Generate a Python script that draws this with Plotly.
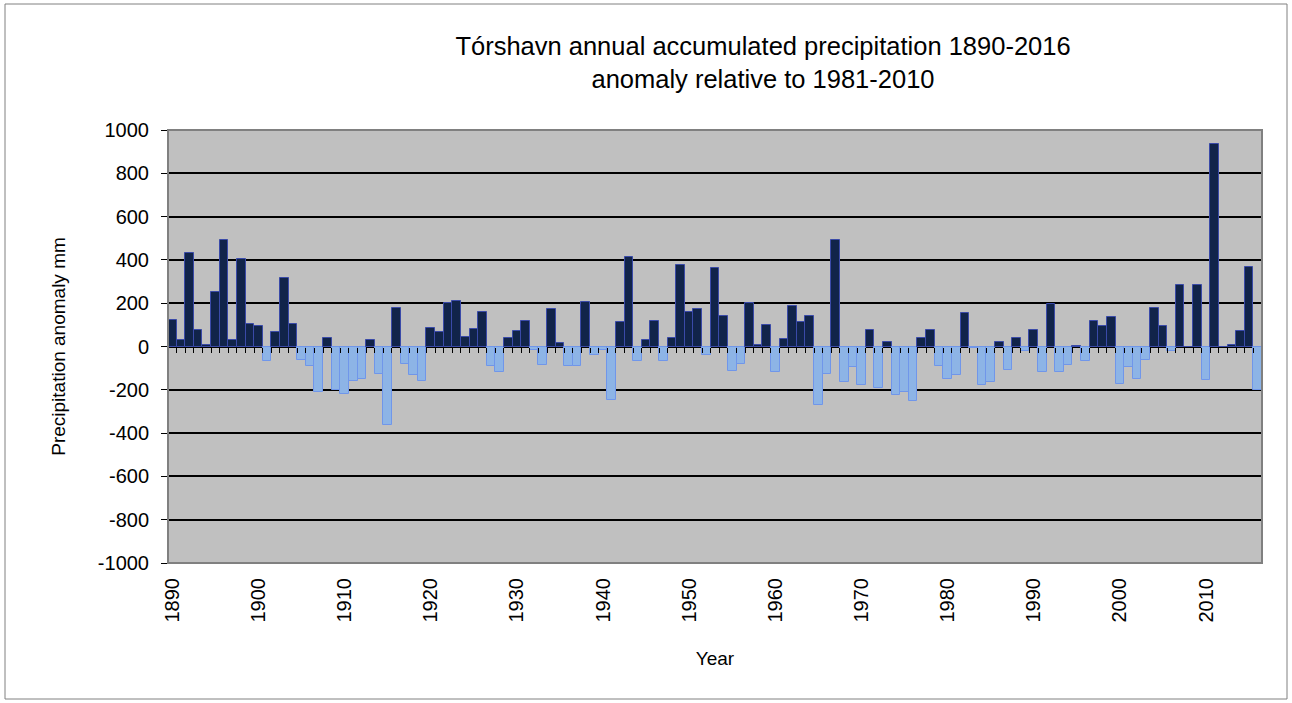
import plotly.graph_objects as go

years = list(range(1890, 2017))
anomaly = [
    123, 28, 431, 74, 6, 252, 492, 31, 403, 105,
    95, -69, 68, 317, 105, -62, -88, -208, 38, -203,
    -218, -161, -150, 31, -126, -361, 177, -81, -131, -161,
    86, 65, 203, 211, 45, 83, 160, -92, -118, 38,
    72, 119, -15, -85, 175, 18, -88, -88, 205, -38,
    -18, -246, 115, 414, -66, 31, 119, -66, 38, 377,
    160, 174, -38, 363, 140, -111, -81, 203, 5, 98,
    -118, 35, 186, 111, 140, -271, -126, 491, -164, -95,
    -178, 75, -191, 22, -224, -212, -254, 38, 75, -92,
    -148, -131, 155, -5, -178, -166, 22, -109, 38, -22,
    75, -120, 197, -118, -85, 3, -68, 119, 95, 137,
    -172, -95, -152, -63, 177, 95, -22, 285, 0, 285,
    -155, 935, 0, 8, 72, 368, -203,
]
decade_ticks = list(range(1890, 2017, 10))
y_ticks = list(range(-1000, 1001, 200))

FONT = "Arial, Liberation Sans, sans-serif"
POS_FILL, POS_LINE = "#11244a", "#3a4aa8"
NEG_FILL, NEG_LINE = "#8db4e6", "#7096ea"

W, H = 1292, 703
ML, MR, MT, MB = 168, 30, 130, 140

fig = go.Figure(go.Bar(
    x=years,
    y=anomaly,
    width=1,
    marker_color=[POS_FILL if v >= 0 else NEG_FILL for v in anomaly],
    marker_line_color=[POS_LINE if v >= 0 else NEG_LINE for v in anomaly],
    marker_line_width=1,
    showlegend=False,
    hovertemplate="%{x}: %{y} mm<extra></extra>",
))

# invisible trace to carry the small tick marks along the zero line
fig.add_trace(go.Scatter(x=[years[0]], y=[0], xaxis="x2", mode="markers",
                         marker_opacity=0, showlegend=False, hoverinfo="skip"))

pw, ph = W - ML - MR, H - MT - MB

fig.update_layout(
    width=W,
    height=H,
    font=dict(family=FONT, size=20, color="#000000"),
    paper_bgcolor="#ffffff",
    plot_bgcolor="#c0c0c0",
    margin=dict(l=ML, r=MR, t=MT, b=MB),
    bargap=0,
    title=dict(
        text="Tórshavn annual accumulated precipitation 1890-2016<br>anomaly relative to 1981-2010",
        x=763 / W,
        xanchor="center",
        y=1 - 55 / H,
        yanchor="middle",
        font=dict(size=25.5),
    ),
    xaxis=dict(
        range=[1889.5, 2016.5],
        tickmode="array",
        tickvals=decade_ticks,
        ticktext=[str(y) for y in decade_ticks],
        tickangle=-90,
        ticks="",
        ticklabelstandoff=10,
        showgrid=False,
        zeroline=False,
        showline=False,
        title=dict(text="Year", font=dict(size=19), standoff=30),
    ),
    xaxis2=dict(
        overlaying="x",
        anchor="free",
        position=0.5,
        side="bottom",
        range=[1889.5, 2016.5],
        tickmode="linear",
        tick0=1889.5,
        dtick=1,
        ticks="outside",
        ticklen=5,
        tickcolor="#000000",
        showticklabels=False,
        showgrid=False,
        zeroline=False,
        showline=False,
    ),
    yaxis=dict(
        range=[-1000, 1000],
        tickmode="array",
        tickvals=y_ticks,
        ticktext=[str(v) for v in y_ticks],
        ticks="outside",
        ticklen=6,
        tickcolor="#000000",
        ticklabelstandoff=8,
        showgrid=True,
        gridcolor="#000000",
        gridwidth=2,
        zeroline=False,
        showline=True,
        linecolor="#000000",
        linewidth=1,
        title=dict(text="Precipitation anomaly mm", font=dict(size=19), standoff=27),
    ),
)

# plot-area frame (gray) and outer chart border
fig.add_shape(type="rect", xref="paper", yref="paper", x0=0, x1=1, y0=0, y1=1,
              line=dict(color="#808080", width=2), layer="above")
fig.add_shape(
    type="rect", xref="paper", yref="paper",
    x0=(5 - ML) / pw, x1=(1287 - ML) / pw,
    y0=(H - MB - 699) / ph, y1=(H - MB - 4) / ph,
    line=dict(color="#808080", width=1),
    layer="below",
)

fig.write_html("out.html", config={"displayModeBar": False},
               post_script="document.body.style.margin='0';")
